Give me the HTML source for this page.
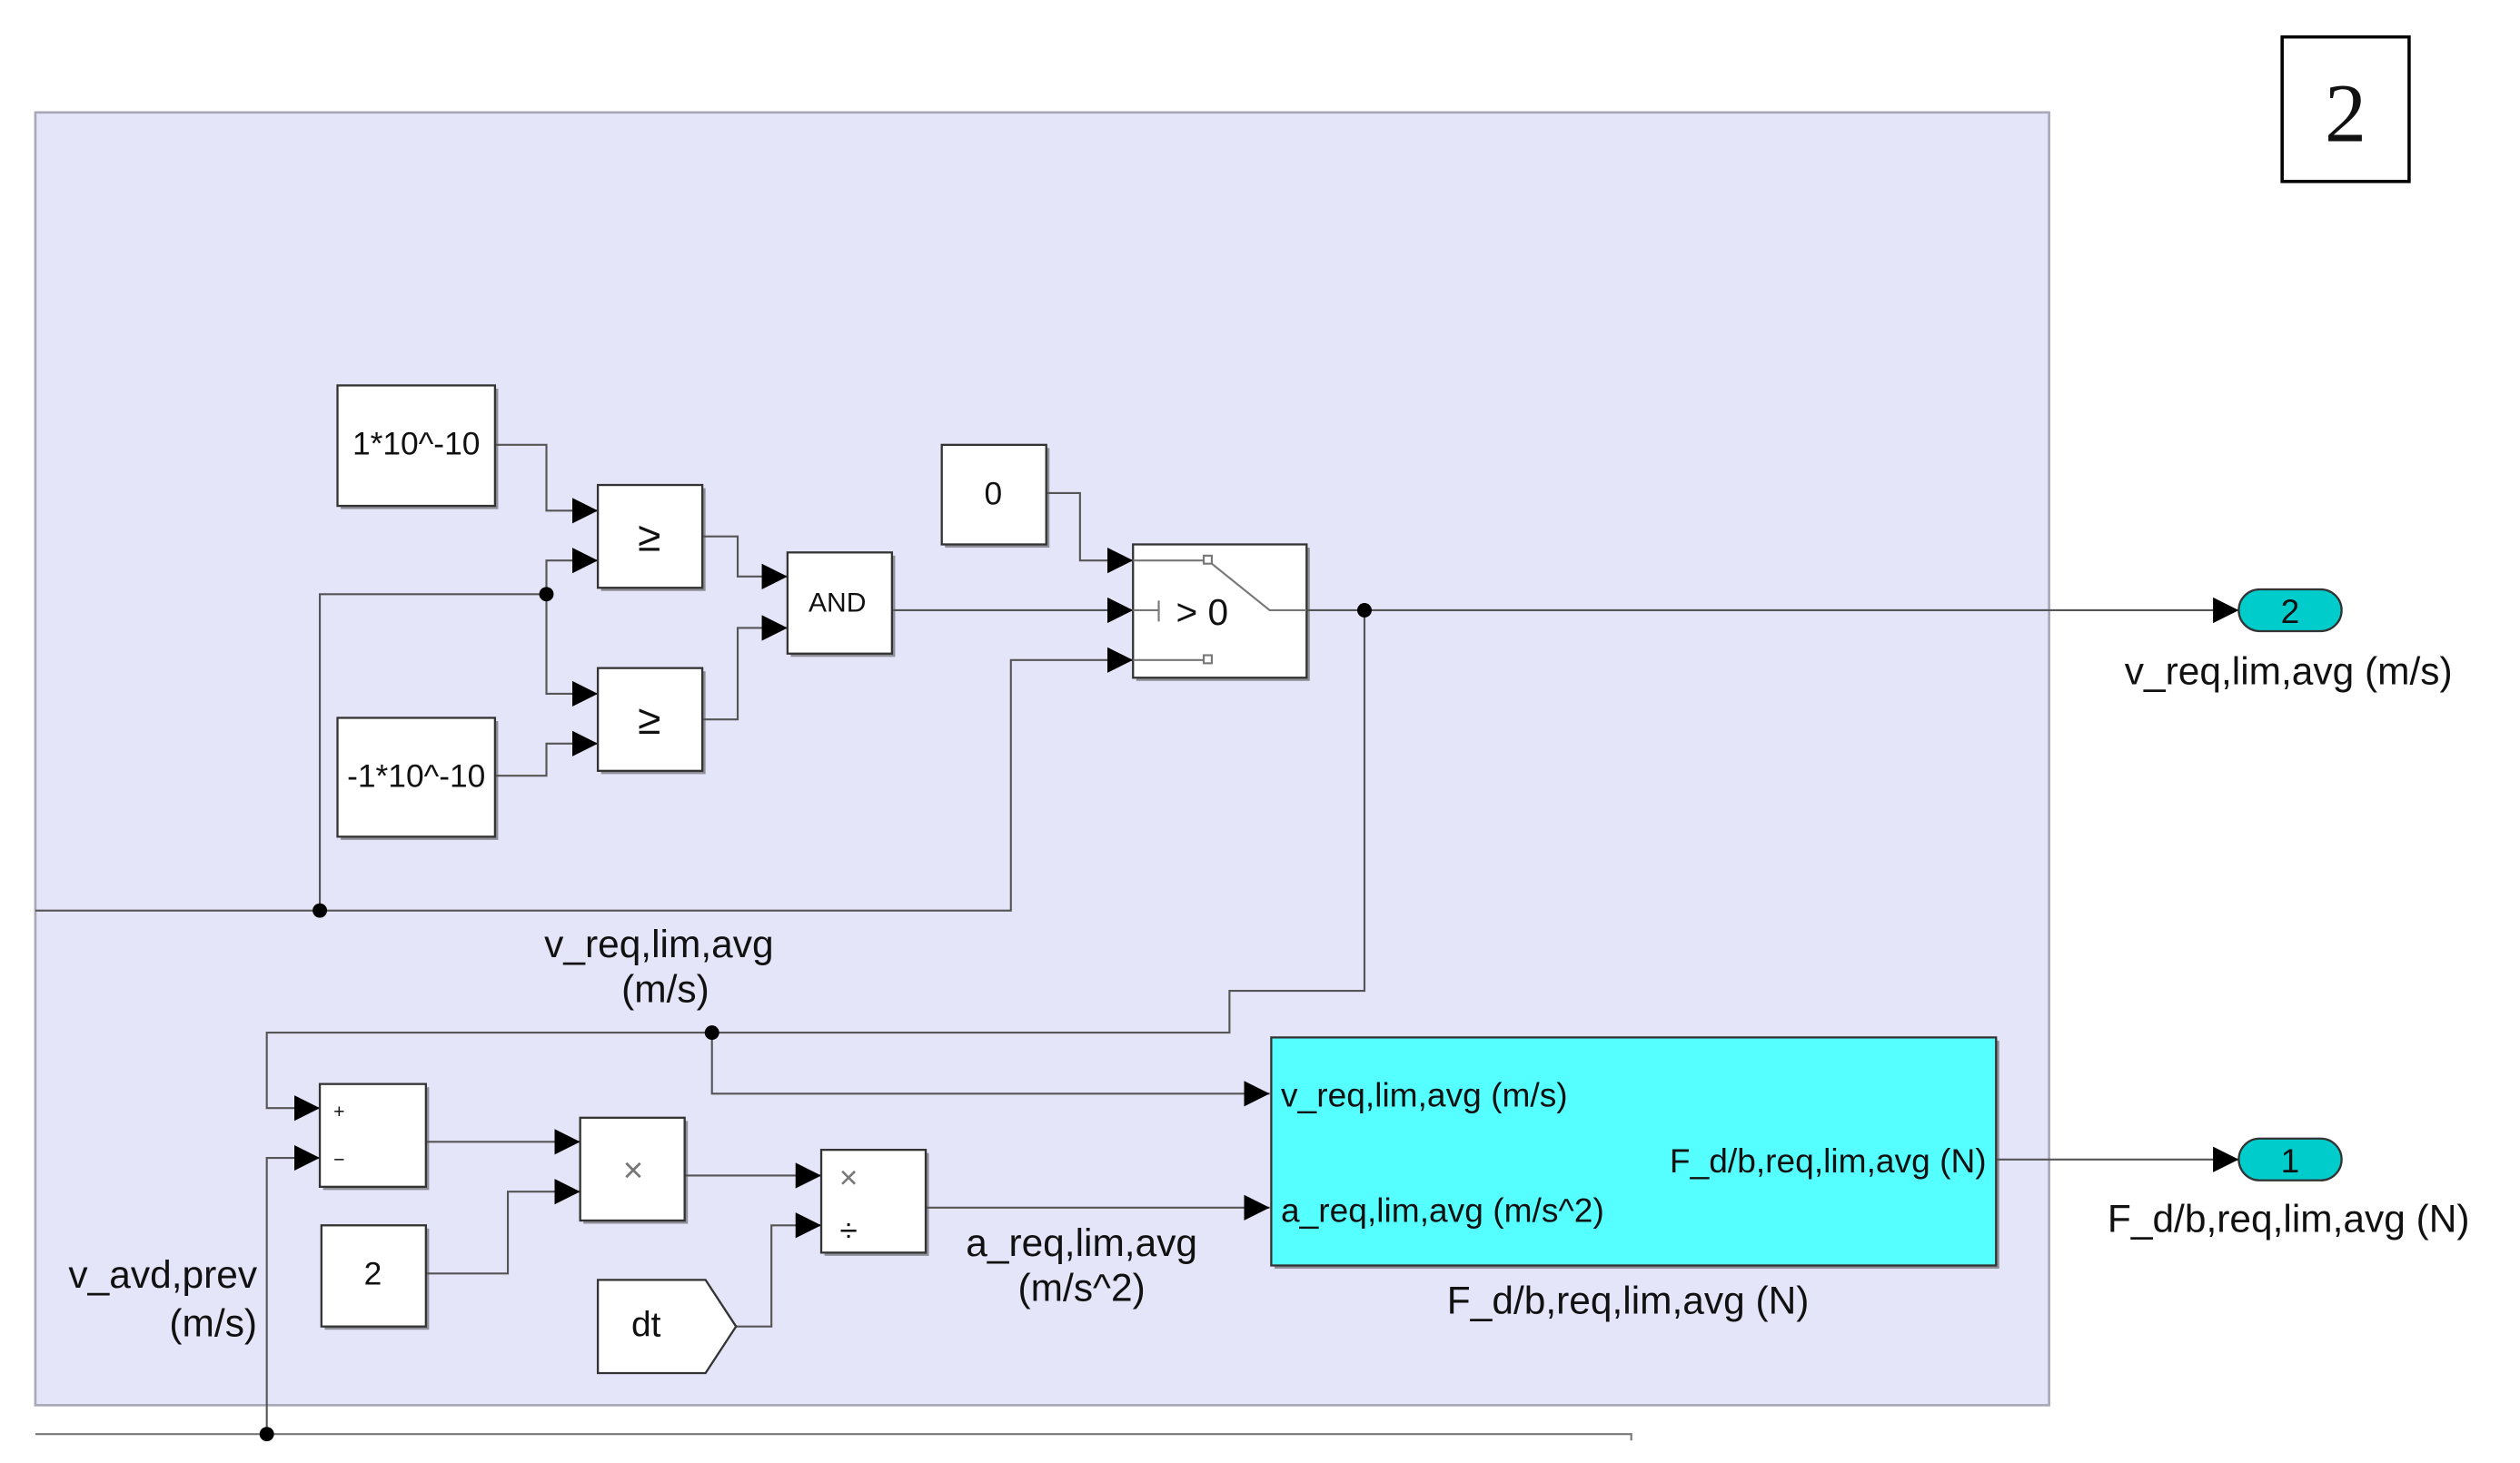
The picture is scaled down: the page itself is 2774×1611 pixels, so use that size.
<!DOCTYPE html>
<html><head><meta charset="utf-8"><style>
html,body{margin:0;padding:0;background:#fff;}
svg{display:block;}
text{font-family:"Liberation Sans",Arial,sans-serif;fill:#111;}
</style></head><body>
<svg width="2774" height="1611" viewBox="0 0 1568 911" preserveAspectRatio="none" xmlns="http://www.w3.org/2000/svg">
<defs>
<marker id="a" viewBox="0 0 10 10" refX="10" refY="5" markerWidth="16" markerHeight="16" markerUnits="userSpaceOnUse" orient="auto"><path d="M0,0 L10,5 L0,10 z" fill="#000"/></marker>
</defs>
<rect x="22" y="70" width="1253" height="805" fill="#e5e5fa" stroke="#a8a8b8" stroke-width="1.5"/>
<rect x="1420" y="23" width="79" height="90" fill="#fff" stroke="#000" stroke-width="2"/>
<text x="1459.5" y="88" text-anchor="middle" style="font-family:'Liberation Serif',serif" font-size="52">2</text>

<g fill="none" stroke="#555" stroke-width="1.2">
<path d="M308,277 H340 V318 H372" marker-end="url(#a)"/>
<path d="M308,483 H340 V463 H372" marker-end="url(#a)"/>
<path d="M22,567 H629 V411 H705" marker-end="url(#a)"/>
<path d="M199,567 V370 H340 V349 H372" marker-end="url(#a)"/>
<path d="M340,370 V432 H372" marker-end="url(#a)"/>
<path d="M437,334 H459 V359 H490" marker-end="url(#a)"/>
<path d="M437,448 H459 V391 H490" marker-end="url(#a)"/>
<path d="M555,380 H705" marker-end="url(#a)"/>
<path d="M651,307 H672 V349 H705" marker-end="url(#a)"/>
<path d="M813,380 H1393" marker-end="url(#a)"/>
<path d="M849,380 V617 H765 V643 H166 V690 H199" marker-end="url(#a)"/>
<path d="M443,643 V681 H790" marker-end="url(#a)"/>
<path d="M166,893 V721 H199" marker-end="url(#a)"/>
<path d="M265,711 H361" marker-end="url(#a)"/>
<path d="M265,793 H316 V742 H361" marker-end="url(#a)"/>
<path d="M426,732 H511" marker-end="url(#a)"/>
<path d="M458,826 H480 V763 H511" marker-end="url(#a)"/>
<path d="M576,752 H790" marker-end="url(#a)"/>
<path d="M1242,722 H1393" marker-end="url(#a)"/>
<path d="M22,893 H1015 V897" stroke="#777"/>
</g>
<g fill="#000">
<circle cx="340" cy="370" r="4.5"/><circle cx="199" cy="567" r="4.5"/>
<circle cx="849" cy="380" r="4.5"/><circle cx="443" cy="643" r="4.5"/>
<circle cx="166" cy="893" r="4.5"/>
</g>

<g fill="#555" opacity="0.6">
<rect x="212" y="242" width="98" height="75"/>
<rect x="212" y="449" width="98" height="74"/>
<rect x="374" y="304" width="65" height="64"/>
<rect x="374" y="418" width="65" height="64"/>
<rect x="492" y="346" width="65" height="63"/>
<rect x="588" y="279" width="65" height="62"/>
<rect x="707" y="341" width="108" height="83"/>
<rect x="201" y="677" width="66" height="64"/>
<rect x="363" y="698" width="65" height="64"/>
<rect x="202" y="765" width="65" height="63"/>
<rect x="513" y="718" width="65" height="64"/>
<rect x="793" y="648" width="451" height="142"/>
</g>
<g fill="#fff" stroke="#333" stroke-width="1.3">
<rect x="210" y="240" width="98" height="75"/>
<rect x="210" y="447" width="98" height="74"/>
<rect x="372" y="302" width="65" height="64"/>
<rect x="372" y="416" width="65" height="64"/>
<rect x="490" y="344" width="65" height="63"/>
<rect x="586" y="277" width="65" height="62"/>
<rect x="705" y="339" width="108" height="83"/>
<rect x="199" y="675" width="66" height="64"/>
<rect x="361" y="696" width="65" height="64"/>
<rect x="200" y="763" width="65" height="63"/>
<rect x="511" y="716" width="65" height="64"/>
<path d="M372,797 H439 L458,826 L439,855 H372 Z"/>
</g>
<rect x="791" y="646" width="451" height="142" fill="#55ffff" stroke="#333" stroke-width="1.3"/>
<rect x="1393" y="367" width="64" height="26" rx="13" fill="#00cccc" stroke="#333" stroke-width="1.3"/>
<rect x="1393" y="709" width="64" height="26" rx="13" fill="#00cccc" stroke="#333" stroke-width="1.3"/>

<g fill="none" stroke="#777" stroke-width="1.2">
<path d="M705,349 H749"/><rect x="749" y="346" width="5" height="5" fill="#fff"/>
<path d="M705,411 H749"/><rect x="749" y="408" width="5" height="5" fill="#fff"/>
<path d="M705,380 H721 M721,374 V387"/>
<path d="M754,351 L790,380 H813"/>
</g>

<g font-size="20" text-anchor="middle">
<text x="259" y="283">1*10^-10</text>
<text x="259" y="490">-1*10^-10</text>
<text x="404" y="343" font-size="26">≥</text>
<text x="404" y="457" font-size="26">≥</text>
<text x="521" y="381" font-size="17">AND</text>
<text x="618" y="314">0</text>
<text x="748" y="389" font-size="23">&gt; 0</text>
<text x="232" y="800">2</text>
<text x="402" y="832" font-size="22">dt</text>
<text x="394" y="736" style="fill:#777" font-size="22">×</text>
<text x="528" y="740" style="fill:#777" font-size="20">×</text>
<text x="528" y="773" font-size="20">÷</text>
<text x="211" y="696" font-size="12">+</text>
<text x="211" y="726" font-size="12">−</text>
<text x="1425" y="388" font-size="21">2</text>
<text x="1425" y="730" font-size="21">1</text>
</g>
<g font-size="21">
<text x="797" y="689">v_req,lim,avg (m/s)</text>
<text x="797" y="761">a_req,lim,avg (m/s^2)</text>
<text x="1236" y="730" text-anchor="end">F_d/b,req,lim,avg (N)</text>
</g>
<g font-size="24" text-anchor="middle">
<text x="410" y="596">v_req,lim,avg</text>
<text x="414" y="624">(m/s)</text>
<text x="673" y="782">a_req,lim,avg</text>
<text x="673" y="810">(m/s^2)</text>
<text x="1013" y="818">F_d/b,req,lim,avg (N)</text>
<text x="1424" y="426">v_req,lim,avg (m/s)</text>
<text x="1424" y="767">F_d/b,req,lim,avg (N)</text>
<text x="160" y="802" text-anchor="end">v_avd,prev</text>
<text x="160" y="832" text-anchor="end">(m/s)</text>
</g>
</svg>
</body></html>
